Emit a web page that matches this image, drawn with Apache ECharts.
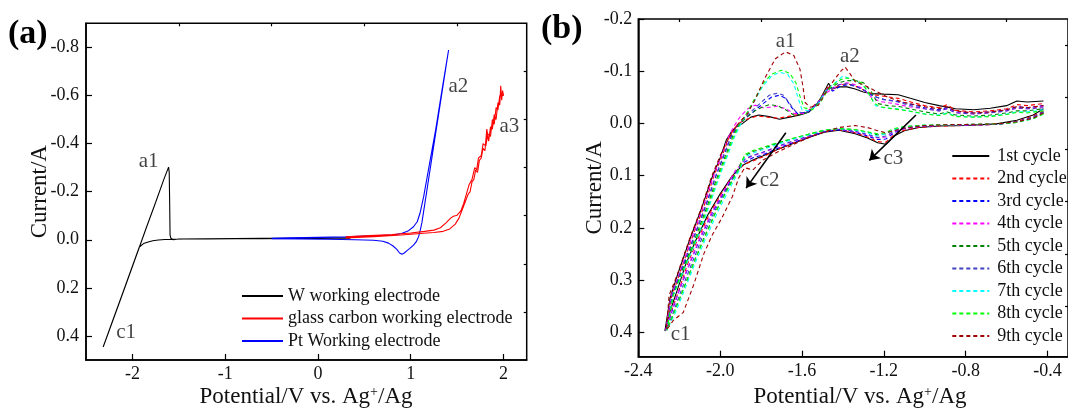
<!DOCTYPE html>
<html><head><meta charset="utf-8">
<script src="https://cdn.jsdelivr.net/npm/echarts@6/dist/echarts.min.js"></script>
<style>html,body{margin:0;padding:0;background:#fff}#c{width:1068px;height:410px}</style>
</head><body><div id="c"></div>
<script>
const FONT = '"Liberation Serif", "Times New Roman", serif';
const TXT = '#111';

// ---------- Panel (a) ----------
const aXTicks = [-2, -1, 0, 1, 2];
const aXMinor = [-1.5, -0.5, 0.5, 1.5];
const aYTicks = [-0.8, -0.6, -0.4, -0.2, 0, 0.2, 0.4];
const aYMinor = [-0.7, -0.5, -0.3, -0.1, 0.1, 0.3];
const aNames = ['W working electrode', 'glass carbon working electrode', 'Pt Working electrode'];
const aColors = ['#000000', '#ff0000', '#0000ff'];

const wData = [
  [0.35,-0.006],[0.2,-0.006],[0.0,-0.005],[-0.3,-0.005],[-0.6,-0.004],[-0.9,-0.004],[-1.2,-0.003],[-1.45,-0.003],
  [-1.57,-0.002],[-1.65,-0.001],[-1.72,0.001],[-1.78,0.004],[-1.83,0.009],[-1.88,0.016],[-1.925,0.03],[-2.0,0.11],
  [-2.1,0.217],[-2.2,0.323],[-2.315,0.446],
  [-2.2,0.325],[-2.1,0.219],[-2.0,0.112],[-1.926,0.032],[-1.85,-0.05],[-1.75,-0.155],[-1.66,-0.252],[-1.61,-0.302],
  [-1.603,-0.28],[-1.598,-0.15],[-1.594,-0.02],[-1.585,-0.006],[-1.56,0.0],[-1.5,-0.003],[-1.2,-0.004],[-0.9,-0.005],
  [-0.6,-0.006],[-0.3,-0.006],[0.0,-0.007],[0.35,-0.008]
];
const ptData = [
  [-0.5,-0.006],[-0.3,-0.008],[0.0,-0.01],[0.3,-0.012],[0.6,-0.016],[0.8,-0.02],[0.9,-0.026],[0.97,-0.036],
  [1.03,-0.054],[1.07,-0.075],[1.1,-0.11],[1.14,-0.18],[1.2,-0.31],[1.27,-0.46],[1.34,-0.63],[1.408,-0.789],
  [1.36,-0.67],[1.3,-0.52],[1.24,-0.37],[1.18,-0.22],[1.14,-0.12],[1.12,-0.07],[1.10,-0.035],[1.085,-0.013],
  [1.06,0.008],[1.03,0.022],[0.99,0.036],[0.96,0.045],[0.93,0.055],[0.906,0.06],[0.88,0.055],[0.85,0.04],
  [0.81,0.026],[0.76,0.014],[0.7,0.006],[0.6,0.002],[0.4,0.0],[0.1,-0.002],[-0.2,-0.003],[-0.5,-0.004]
];
const gcData = [
  [0.3,-0.008],[0.6,-0.013],[0.9,-0.02],[1.1,-0.026],[1.25,-0.03],[1.35,-0.035],[1.42,-0.045],[1.48,-0.065],
  [1.52,-0.09],[1.56,-0.13],[1.6,-0.17],[1.62,-0.19],[1.64,-0.2],[1.66,-0.24],[1.68,-0.25],[1.70,-0.29],
  [1.72,-0.28],[1.74,-0.33],[1.76,-0.34],[1.78,-0.38],[1.80,-0.37],[1.82,-0.46],[1.84,-0.41],[1.86,-0.47],
  [1.88,-0.46],[1.90,-0.52],[1.92,-0.50],[1.94,-0.57],[1.96,-0.56],[1.97,-0.64],[1.98,-0.58],[1.99,-0.62],[2.0,-0.60],
  [1.99,-0.6],[1.96,-0.6],[1.94,-0.54],[1.92,-0.55],[1.90,-0.48],[1.88,-0.5],[1.86,-0.43],[1.83,-0.44],
  [1.81,-0.39],[1.78,-0.4],[1.76,-0.35],[1.73,-0.34],[1.71,-0.29],[1.69,-0.3],[1.66,-0.25],[1.63,-0.23],
  [1.6,-0.19],[1.57,-0.15],[1.54,-0.12],[1.5,-0.102],[1.46,-0.098],[1.43,-0.09],[1.38,-0.07],[1.32,-0.05],
  [1.25,-0.04],[1.15,-0.035],[1.0,-0.028],[0.8,-0.022],[0.5,-0.016],[0.3,-0.012]
];
const annotA = [['a1',-1.825,-0.324],['a2',1.513,-0.639],['a3',2.063,-0.469],['c1',-2.068,0.384]];

// ---------- Panel (b) ----------
const bXTicks = [-2.4, -2.0, -1.6, -1.2, -0.8, -0.4];
const bXMinor = [-2.2, -1.8, -1.4, -1.0, -0.6];
const bYTicks = [-0.2, -0.1, 0, 0.1, 0.2, 0.3, 0.4];
const bYMinor = [-0.15, -0.05, 0.05, 0.15, 0.25, 0.35];
const bNames = ['1st cycle','2nd cycle','3rd cycle','4th cycle','5th cycle','6th cycle','7th cycle','8th cycle','9th cycle'];
const bColors = ['#000000','#ff0000','#0000ff','#ff00ff','#008000','#4040c0','#00ffff','#00ff00','#a00000'];

const cyc1 = [
  [-0.42,-0.028],[-0.47,-0.016],[-0.55,-0.006],[-0.65,0.001],[-0.8,0.004],[-0.93,0.005],[-1.03,0.008],[-1.10,0.014],
  [-1.15,0.024],[-1.19,0.040],[-1.23,0.037],[-1.28,0.028],[-1.34,0.020],[-1.42,0.013],[-1.49,0.017],[-1.56,0.026],
  [-1.64,0.038],[-1.72,0.050],[-1.79,0.062],[-1.84,0.070],[-1.89,0.080],[-1.94,0.100],[-2.0,0.135],[-2.06,0.175],
  [-2.12,0.225],[-2.17,0.272],[-2.21,0.32],[-2.245,0.36],[-2.27,0.398],
  [-2.245,0.335],[-2.21,0.292],[-2.15,0.224],[-2.09,0.162],[-2.04,0.104],[-2.00,0.066],[-1.97,0.032],[-1.945,0.016],
  [-1.92,0.006],[-1.89,0.0],[-1.85,-0.012],[-1.81,-0.016],[-1.76,-0.013],[-1.71,-0.008],[-1.66,-0.012],[-1.61,-0.016],
  [-1.565,-0.022],[-1.52,-0.040],[-1.47,-0.077],[-1.455,-0.066],[-1.42,-0.070],[-1.38,-0.070],[-1.34,-0.066],[-1.30,-0.060],
  [-1.26,-0.057],[-1.20,-0.056],[-1.13,-0.055],[-1.07,-0.048],[-1.0,-0.040],[-0.93,-0.034],[-0.85,-0.028],[-0.76,-0.026],
  [-0.68,-0.029],[-0.6,-0.034],[-0.55,-0.043],[-0.5,-0.041],[-0.42,-0.043]
];
const cyc2 = [
  [-0.42,-0.024],[-0.47,-0.014],[-0.55,-0.004],[-0.65,0.002],[-0.8,0.004],[-0.93,0.005],[-1.03,0.008],[-1.10,0.013],
  [-1.15,0.022],[-1.19,0.036],[-1.23,0.035],[-1.28,0.026],[-1.34,0.018],[-1.42,0.012],[-1.49,0.016],[-1.56,0.025],
  [-1.64,0.037],[-1.72,0.050],[-1.79,0.064],[-1.84,0.072],[-1.88,0.078],[-1.93,0.096],[-1.99,0.132],[-2.05,0.172],
  [-2.11,0.222],[-2.16,0.27],[-2.2,0.318],[-2.24,0.362],[-2.265,0.396],
  [-2.24,0.335],[-2.20,0.29],[-2.14,0.222],[-2.08,0.16],[-2.03,0.10],[-1.99,0.062],[-1.96,0.03],[-1.935,0.012],
  [-1.91,0.0],[-1.87,-0.008],[-1.82,-0.014],[-1.77,-0.012],[-1.72,-0.010],[-1.67,-0.013],[-1.62,-0.017],[-1.57,-0.024],
  [-1.52,-0.042],[-1.47,-0.072],[-1.45,-0.066],[-1.41,-0.074],[-1.37,-0.075],[-1.33,-0.070],[-1.29,-0.062],[-1.25,-0.055],
  [-1.20,-0.052],[-1.13,-0.048],[-1.06,-0.040],[-1.0,-0.034],[-0.93,-0.030],[-0.89,-0.036],[-0.85,-0.025],[-0.76,-0.022],
  [-0.68,-0.024],[-0.6,-0.028],[-0.55,-0.036],[-0.5,-0.034],[-0.42,-0.038]
];
const cyc3 = [
  [-0.42,-0.022],[-0.47,-0.012],[-0.55,-0.003],[-0.65,0.002],[-0.8,0.003],[-0.93,0.004],[-1.03,0.006],[-1.10,0.010],
  [-1.15,0.018],[-1.19,0.030],[-1.23,0.031],[-1.28,0.024],[-1.34,0.017],[-1.42,0.012],[-1.49,0.016],[-1.56,0.025],
  [-1.64,0.036],[-1.72,0.048],[-1.79,0.060],[-1.84,0.066],[-1.88,0.074],[-1.92,0.092],[-1.98,0.13],[-2.04,0.172],
  [-2.10,0.222],[-2.15,0.27],[-2.2,0.32],[-2.24,0.365],[-2.265,0.396],
  [-2.235,0.33],[-2.19,0.285],[-2.13,0.22],[-2.07,0.158],[-2.02,0.10],[-1.98,0.06],[-1.95,0.028],[-1.92,0.008],
  [-1.89,-0.006],[-1.85,-0.018],[-1.80,-0.035],[-1.75,-0.050],[-1.71,-0.054],[-1.68,-0.048],[-1.65,-0.030],[-1.62,-0.018],
  [-1.57,-0.022],[-1.52,-0.040],[-1.47,-0.068],[-1.45,-0.062],[-1.41,-0.072],[-1.37,-0.074],[-1.33,-0.070],[-1.29,-0.062],
  [-1.25,-0.052],[-1.20,-0.046],[-1.13,-0.042],[-1.06,-0.036],[-1.0,-0.030],[-0.93,-0.026],[-0.89,-0.030],[-0.85,-0.022],
  [-0.76,-0.020],[-0.68,-0.022],[-0.6,-0.026],[-0.55,-0.032],[-0.5,-0.030],[-0.42,-0.034]
];
const cyc4 = [
  [-0.42,-0.020],[-0.47,-0.011],[-0.55,-0.003],[-0.65,0.002],[-0.8,0.003],[-0.93,0.004],[-1.03,0.006],[-1.10,0.010],
  [-1.15,0.016],[-1.19,0.026],[-1.23,0.028],[-1.28,0.022],[-1.34,0.016],[-1.42,0.011],[-1.49,0.015],[-1.56,0.024],
  [-1.64,0.034],[-1.72,0.045],[-1.79,0.056],[-1.84,0.062],[-1.88,0.070],[-1.925,0.09],[-1.98,0.128],[-2.04,0.17],
  [-2.10,0.22],[-2.15,0.268],[-2.2,0.318],[-2.24,0.362],[-2.265,0.396],
  [-2.24,0.33],[-2.20,0.288],[-2.14,0.22],[-2.08,0.156],[-2.03,0.098],[-1.99,0.058],[-1.96,0.026],[-1.93,0.004],
  [-1.90,-0.014],[-1.865,-0.028],[-1.83,-0.035],[-1.79,-0.030],[-1.75,-0.031],[-1.72,-0.033],[-1.68,-0.028],[-1.64,-0.019],
  [-1.59,-0.019],[-1.54,-0.032],[-1.49,-0.056],[-1.46,-0.064],[-1.42,-0.074],[-1.38,-0.078],[-1.34,-0.074],[-1.30,-0.066],
  [-1.26,-0.050],[-1.22,-0.042],[-1.15,-0.038],[-1.08,-0.032],[-1.0,-0.028],[-0.93,-0.024],[-0.89,-0.028],[-0.85,-0.021],
  [-0.76,-0.018],[-0.68,-0.020],[-0.6,-0.024],[-0.55,-0.029],[-0.5,-0.028],[-0.42,-0.032]
];
const cyc5 = [
  [-0.42,-0.020],[-0.47,-0.010],[-0.55,-0.002],[-0.65,0.002],[-0.8,0.002],[-0.93,0.003],[-1.03,0.004],[-1.10,0.007],
  [-1.15,0.012],[-1.19,0.020],[-1.23,0.022],[-1.28,0.017],[-1.34,0.012],[-1.42,0.010],[-1.49,0.013],[-1.56,0.020],
  [-1.64,0.029],[-1.72,0.038],[-1.79,0.048],[-1.84,0.054],[-1.88,0.062],[-1.91,0.085],[-1.96,0.122],[-2.02,0.168],
  [-2.08,0.22],[-2.13,0.268],[-2.18,0.318],[-2.225,0.362],[-2.26,0.396],
  [-2.23,0.33],[-2.19,0.286],[-2.12,0.218],[-2.06,0.155],[-2.01,0.098],[-1.97,0.058],[-1.94,0.026],[-1.91,0.004],
  [-1.87,-0.012],[-1.83,-0.024],[-1.79,-0.032],[-1.76,-0.036],[-1.72,-0.034],[-1.68,-0.026],[-1.64,-0.016],[-1.59,-0.018],
  [-1.54,-0.030],[-1.49,-0.058],[-1.46,-0.068],[-1.42,-0.078],[-1.38,-0.082],[-1.34,-0.082],[-1.30,-0.078],[-1.26,-0.060],
  [-1.23,-0.038],[-1.18,-0.034],[-1.12,-0.032],[-1.05,-0.026],[-1.0,-0.022],[-0.93,-0.018],[-0.89,-0.022],[-0.85,-0.016],
  [-0.76,-0.014],[-0.68,-0.016],[-0.6,-0.020],[-0.55,-0.024],[-0.5,-0.024],[-0.42,-0.028]
];
const cyc6 = [
  [-0.42,-0.022],[-0.47,-0.012],[-0.55,-0.003],[-0.65,0.002],[-0.8,0.003],[-0.93,0.004],[-1.03,0.006],[-1.10,0.009],
  [-1.15,0.015],[-1.19,0.024],[-1.23,0.027],[-1.28,0.021],[-1.34,0.015],[-1.42,0.011],[-1.49,0.015],[-1.56,0.023],
  [-1.64,0.033],[-1.72,0.044],[-1.79,0.055],[-1.84,0.061],[-1.88,0.068],[-1.915,0.09],[-1.97,0.127],[-2.03,0.17],
  [-2.09,0.221],[-2.14,0.27],[-2.19,0.32],[-2.23,0.363],[-2.262,0.396],
  [-2.235,0.33],[-2.195,0.286],[-2.13,0.22],[-2.07,0.156],[-2.02,0.099],[-1.98,0.058],[-1.95,0.028],[-1.92,0.006],
  [-1.89,-0.008],[-1.85,-0.022],[-1.80,-0.040],[-1.76,-0.054],[-1.72,-0.058],[-1.69,-0.054],[-1.66,-0.038],[-1.63,-0.022],
  [-1.58,-0.020],[-1.53,-0.036],[-1.48,-0.064],[-1.46,-0.066],[-1.42,-0.074],[-1.38,-0.076],[-1.34,-0.072],[-1.30,-0.064],
  [-1.26,-0.054],[-1.21,-0.046],[-1.14,-0.042],[-1.07,-0.034],[-1.0,-0.028],[-0.93,-0.024],[-0.89,-0.028],[-0.85,-0.020],
  [-0.76,-0.018],[-0.68,-0.020],[-0.6,-0.024],[-0.55,-0.030],[-0.5,-0.028],[-0.42,-0.030]
];
const cyc7 = [
  [-0.42,-0.018],[-0.47,-0.009],[-0.55,-0.002],[-0.65,0.001],[-0.8,0.002],[-0.93,0.003],[-1.03,0.004],[-1.10,0.007],
  [-1.15,0.012],[-1.19,0.020],[-1.23,0.024],[-1.28,0.018],[-1.34,0.013],[-1.42,0.010],[-1.49,0.013],[-1.56,0.021],
  [-1.64,0.030],[-1.72,0.040],[-1.79,0.050],[-1.84,0.057],[-1.88,0.064],[-1.90,0.085],[-1.95,0.122],[-2.01,0.168],
  [-2.07,0.22],[-2.125,0.27],[-2.175,0.32],[-2.22,0.364],[-2.26,0.396],
  [-2.23,0.33],[-2.18,0.284],[-2.11,0.218],[-2.05,0.155],[-2.0,0.098],[-1.96,0.058],[-1.93,0.026],[-1.90,0.002],
  [-1.87,-0.018],[-1.83,-0.045],[-1.79,-0.072],[-1.75,-0.090],[-1.71,-0.098],[-1.67,-0.094],[-1.64,-0.076],[-1.62,-0.050],
  [-1.60,-0.026],[-1.56,-0.024],[-1.52,-0.038],[-1.48,-0.064],[-1.45,-0.074],[-1.42,-0.084],[-1.40,-0.091],[-1.37,-0.086],
  [-1.33,-0.080],[-1.29,-0.068],[-1.26,-0.048],[-1.24,-0.034],[-1.2,-0.030],[-1.13,-0.028],[-1.06,-0.022],[-1.0,-0.018],
  [-0.93,-0.016],[-0.89,-0.020],[-0.85,-0.014],[-0.76,-0.012],[-0.68,-0.014],[-0.6,-0.018],[-0.55,-0.022],[-0.5,-0.022],[-0.42,-0.026]
];
const cyc8 = [
  [-0.42,-0.018],[-0.47,-0.009],[-0.55,-0.002],[-0.65,0.001],[-0.8,0.002],[-0.93,0.003],[-1.03,0.004],[-1.10,0.006],
  [-1.15,0.010],[-1.19,0.017],[-1.23,0.020],[-1.28,0.016],[-1.34,0.012],[-1.42,0.010],[-1.49,0.013],[-1.56,0.020],
  [-1.64,0.028],[-1.72,0.037],[-1.79,0.046],[-1.84,0.052],[-1.88,0.060],[-1.905,0.085],[-1.955,0.12],[-2.015,0.165],
  [-2.075,0.218],[-2.13,0.268],[-2.18,0.318],[-2.225,0.362],[-2.26,0.396],
  [-2.23,0.33],[-2.185,0.285],[-2.115,0.218],[-2.055,0.155],[-2.005,0.098],[-1.965,0.058],[-1.935,0.026],[-1.905,0.002],
  [-1.87,-0.02],[-1.83,-0.048],[-1.79,-0.076],[-1.75,-0.094],[-1.70,-0.102],[-1.66,-0.096],[-1.63,-0.078],[-1.61,-0.052],
  [-1.59,-0.03],[-1.55,-0.026],[-1.51,-0.040],[-1.47,-0.066],[-1.44,-0.076],[-1.41,-0.084],[-1.38,-0.087],[-1.35,-0.084],
  [-1.31,-0.078],[-1.28,-0.062],[-1.25,-0.040],[-1.22,-0.032],[-1.16,-0.028],[-1.08,-0.024],[-1.0,-0.018],[-0.93,-0.015],
  [-0.89,-0.019],[-0.85,-0.013],[-0.76,-0.012],[-0.68,-0.013],[-0.6,-0.017],[-0.55,-0.021],[-0.5,-0.020],[-0.42,-0.024]
];
const cyc9 = [
  [-0.42,-0.020],[-0.47,-0.010],[-0.55,-0.003],[-0.65,0.001],[-0.8,0.002],[-0.93,0.003],[-1.03,0.005],[-1.10,0.009],
  [-1.15,0.014],[-1.19,0.018],[-1.23,0.014],[-1.28,0.008],[-1.34,0.004],[-1.42,0.008],[-1.49,0.016],[-1.56,0.026],
  [-1.64,0.040],[-1.72,0.055],[-1.79,0.070],[-1.84,0.089],[-1.88,0.085],[-1.91,0.105],[-1.94,0.14],[-1.99,0.18],
  [-2.04,0.215],[-2.08,0.25],[-2.13,0.31],[-2.18,0.362],[-2.23,0.378],[-2.262,0.396],
  [-2.25,0.33],[-2.21,0.29],[-2.15,0.222],[-2.09,0.16],[-2.04,0.10],[-2.0,0.062],[-1.96,0.03],[-1.93,0.01],
  [-1.90,-0.005],[-1.87,-0.016],[-1.83,-0.045],[-1.78,-0.088],[-1.73,-0.124],[-1.68,-0.137],[-1.64,-0.13],[-1.61,-0.104],
  [-1.595,-0.07],[-1.585,-0.04],[-1.56,-0.031],[-1.52,-0.035],[-1.48,-0.062],[-1.44,-0.085],[-1.41,-0.100],[-1.39,-0.108],
  [-1.37,-0.098],[-1.34,-0.08],[-1.29,-0.072],[-1.24,-0.062],[-1.18,-0.050],[-1.1,-0.040],[-1.0,-0.032],[-0.93,-0.028],
  [-0.89,-0.032],[-0.85,-0.024],[-0.76,-0.020],[-0.68,-0.022],[-0.6,-0.026],[-0.55,-0.032],[-0.5,-0.030],[-0.42,-0.034]
];
const cycles = [cyc1, cyc2, cyc3, cyc4, cyc5, cyc6, cyc7, cyc8, cyc9];
const annotB = [['a1',-1.680,-0.157],['a2',-1.366,-0.128],['c1',-2.193,0.405],['c2',-1.758,0.110],['c3',-1.153,0.068]];
const arrowsB = [[-1.679,0.018,-1.873,0.124],[-1.043,-0.016,-1.271,0.071]];

// ---------- chart ----------
const chart = echarts.init(document.getElementById('c'), null, {renderer:'canvas', width:1068, height:410});

function mainAxis(grid, min, max, ticks, fmt, margin, name, nameGap, extra) {
  return Object.assign({
    type: 'value', gridIndex: grid, min: min, max: max,
    axisLine: {show: true, onZero: false, lineStyle: {color: '#000', width: 1.5}},
    axisTick: {show: true, inside: true, length: 6, customValues: ticks, lineStyle: {color: '#000', width: 1.2}},
    axisLabel: {show: true, customValues: ticks, formatter: fmt, margin: margin,
      fontFamily: FONT, fontSize: 18, color: TXT},
    splitLine: {show: false},
    name: name, nameLocation: 'middle', nameGap: nameGap, nameMoveOverlap: false,
    nameTextStyle: {fontFamily: FONT, fontSize: 23, color: TXT}
  }, extra || {});
}
function minorAxis(grid, min, max, ticks, extra) {
  return Object.assign({
    type: 'value', gridIndex: grid, min: min, max: max,
    axisLine: {show: false, onZero: false},
    axisTick: {show: true, inside: true, length: 3, customValues: ticks, lineStyle: {color: '#000', width: 1.2}},
    axisLabel: {show: false}, splitLine: {show: false}
  }, extra || {});
}
const f1 = v => Number(v).toFixed(1);
const f0 = v => String(Math.round(v));
const xNameRich = {
  fontFamily: FONT, fontSize: 23, fill: TXT,
  rich: {sup: {fontFamily: FONT, fontSize: 14, fill: TXT, verticalAlign: 'top', padding: [0, 0, 10, 0]}}
};
const xNameText = 'Potential/V vs. Ag{sup|+}/Ag';

const series = [];
const aData = [wData, gcData, ptData];
[0, 2, 1].forEach(i => {
  series.push({type: 'line', name: aNames[i], xAxisIndex: 0, yAxisIndex: 0, data: aData[i],
    symbol: 'none', showSymbol: false, smooth: false,
    lineStyle: {color: aColors[i], width: 1.1}, itemStyle: {color: aColors[i]}});
});
series.push({type: 'scatter', name: 'annotA', xAxisIndex: 0, yAxisIndex: 0, silent: true,
  data: annotA.map(a => [a[1], a[2], a[0]]), symbolSize: 1, itemStyle: {color: 'rgba(0,0,0,0)'},
  label: {show: true, position: 'inside', formatter: p => p.data[2], fontFamily: FONT, fontSize: 21, color: TXT}});
cycles.forEach((c, i) => {
  series.push({type: 'line', name: bNames[i], xAxisIndex: 2, yAxisIndex: 2, data: c,
    symbol: 'none', showSymbol: false,
    lineStyle: {color: bColors[i], width: 1.1, type: i === 0 ? 'solid' : [4, 3]}, itemStyle: {color: bColors[i]}});
});
series.push({type: 'scatter', name: 'annotB', xAxisIndex: 2, yAxisIndex: 2, silent: true,
  data: annotB.map(a => [a[1], a[2], a[0]]), symbolSize: 1, itemStyle: {color: 'rgba(0,0,0,0)'},
  label: {show: true, position: 'inside', formatter: p => p.data[2], fontFamily: FONT, fontSize: 21, color: TXT},
  markLine: {silent: true, symbol: ['none', 'arrow'], symbolSize: 10, animation: false,
    lineStyle: {color: '#000', width: 1.6, type: 'solid'}, label: {show: false},
    data: arrowsB.map(a => [{coord: [a[0], a[1]]}, {coord: [a[2], a[3]]}])}});

chart.setOption({
  animation: false,
  backgroundColor: '#fff',
  grid: [
    {left: 86, top: 23.3, width: 440.7, height: 336.7, show: true, borderColor: '#000', borderWidth: 1.5, containLabel: false},
    {left: 638.3, top: 19, width: 432.3, height: 337.7, show: true, borderColor: '#000', borderWidth: 1.5, containLabel: false}
  ],
  xAxis: [
    mainAxis(0, -2.5, 2.25, aXTicks, f0, 5, '', 30),
    minorAxis(0, -2.5, 2.25, aXMinor),
    mainAxis(1, -2.4, -0.3, bXTicks, f1, 6, '', 30),
    minorAxis(1, -2.4, -0.3, bXMinor)
  ],
  yAxis: [
    mainAxis(0, -0.9, 0.5, aYTicks, f1, 7, 'Current/A', 35, {inverse: true}),
    minorAxis(0, -0.9, 0.5, aYMinor, {inverse: true}),
    mainAxis(1, -0.2, 0.447, bYTicks, f1, 6, 'Current/A', 32, {inverse: true}),
    minorAxis(1, -0.2, 0.447, bYMinor, {inverse: true})
  ],
  legend: [
    {data: aNames, orient: 'vertical', left: 241, top: 287, padding: 0, itemWidth: 41, itemHeight: 14, itemGap: 4.5,
      itemStyle: {opacity: 0, borderWidth: 0},
      textStyle: {fontFamily: FONT, fontSize: 18, color: TXT}, selectedMode: false},
    {data: bNames, orient: 'vertical', left: 951.3, top: 147, padding: 0, itemWidth: 37, itemHeight: 14, itemGap: 4.5,
      itemStyle: {opacity: 0, borderWidth: 0},
      textStyle: {fontFamily: FONT, fontSize: 18, color: TXT, padding: [0, 0, 0, 3]}, selectedMode: false}
  ],
  graphic: [
    {type: 'text', left: 8, top: 17, style: {text: '(a)', fontFamily: FONT, fontSize: 34, fontWeight: 'bold', fill: '#000'}},
    {type: 'text', left: 541, top: 12, style: {text: '(b)', fontFamily: FONT, fontSize: 34, fontWeight: 'bold', fill: '#000'}},
    {type: 'text', x: 306, y: 397, style: Object.assign({text: xNameText, align: 'center', verticalAlign: 'middle'}, xNameRich)},
    {type: 'text', x: 860, y: 397, style: Object.assign({text: xNameText, align: 'center', verticalAlign: 'middle'}, xNameRich)}
  ],
  series: series
});
</script>
</body></html>
